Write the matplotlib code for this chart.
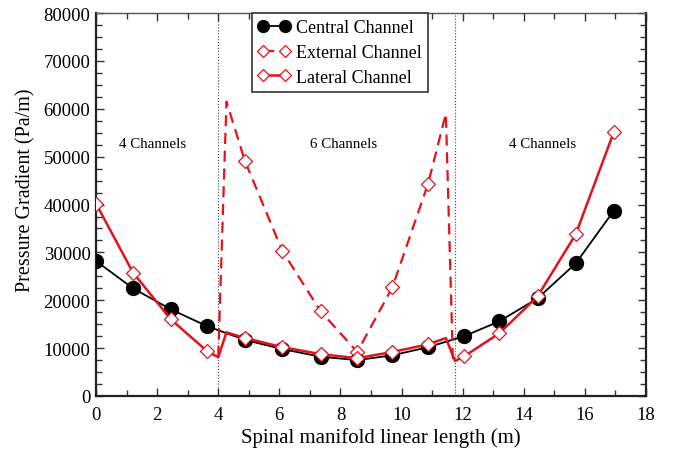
import matplotlib
matplotlib.use("Agg")
import matplotlib.pyplot as plt
from matplotlib.ticker import MultipleLocator

plt.rcParams['font.family'] = ['Liberation Serif', 'DejaVu Serif']

# Central channel
central_x = [0, 1.21, 2.45, 3.63, 4.88, 6.1, 7.35, 8.55, 9.7, 10.87, 12.05, 13.2, 14.45, 15.7, 16.95]
central_y = [28200, 22500, 18100, 14600, 11700, 9800, 8200, 7500, 8500, 10200, 12500, 15600, 20400, 27700, 38750]

# Lateral channel (diamond markers)
lateral_x = [0, 1.21, 2.45, 3.63, 4.88, 6.1, 7.35, 8.55, 9.7, 10.87, 12.05, 13.2, 14.45, 15.7, 16.95]
lateral_y = [40200, 25800, 16000, 9400, 12100, 10200, 8750, 7900, 9200, 10800, 8300, 13100, 20800, 33800, 55200]
# Lateral channel line corners (transitions)
lateral_kink_x = [4.0, 4.27, 11.45, 11.75]
lateral_kink_y = [8100, 13300, 12100, 7300]

# External channel (diamond markers)
external_x = [4.88, 6.1, 7.35, 8.55, 9.7, 10.87]
external_y = [49000, 30300, 17700, 9200, 22700, 44400]
# External channel line ends and peaks
external_kink_x = [4.0, 4.27, 11.45, 11.68]
external_kink_y = [8100, 61500, 59000, 7300]

boundaries = [4.0, 11.75]
zone_labels = ["4 Channels", "6 Channels", "4 Channels"]
zone_label_x = [1.85, 8.1, 14.6]
zone_label_y = 52800

red = '#e3121c'

fig = plt.figure(figsize=(6.79, 4.56), dpi=100)
ax = fig.add_axes([0.1414, 0.1294, 0.81, 0.8396])

lat_pts = sorted(list(zip(lateral_x, lateral_y, [True]*len(lateral_x))) +
                 list(zip(lateral_kink_x, lateral_kink_y, [False]*len(lateral_kink_x))),
                 key=lambda p: p[0])
lx = [p[0] for p in lat_pts]
ly = [p[1] for p in lat_pts]
lmark = [i for i, p in enumerate(lat_pts) if p[2]]

ext_pts = sorted(list(zip(external_x, external_y, [True]*len(external_x))) +
                 list(zip(external_kink_x, external_kink_y, [False]*len(external_kink_x))),
                 key=lambda p: p[0])
ex = [p[0] for p in ext_pts]
ey = [p[1] for p in ext_pts]
emark = [i for i, p in enumerate(ext_pts) if p[2]]

for b in boundaries:
    ax.axvline(b, color='#444444', linestyle=':', linewidth=0.8, zorder=1)

ax.plot(central_x, central_y, color='black', linewidth=1.3, marker='o', markersize=10,
        markerfacecolor='black', markeredgecolor='black', label='Central Channel', zorder=3)
ax.plot(ex, ey, color=red, linewidth=1.6, linestyle=(0, (5, 3)), marker='D', markersize=7,
        markevery=emark, markerfacecolor='white', markeredgecolor=red, markeredgewidth=0.9,
        label='External Channel', zorder=4)
ax.plot(lx, ly, color=red, linewidth=1.8, marker='D', markersize=7, markevery=lmark,
        markerfacecolor='white', markeredgecolor=red, markeredgewidth=0.9,
        label='Lateral Channel', zorder=5)

for t, x in zip(zone_labels, zone_label_x):
    ax.text(x, zone_label_y, t, ha='center', va='center', fontsize=10.8)

ax.set_xlim(0, 18)
ax.set_ylim(0, 80000)
ax.xaxis.set_major_locator(MultipleLocator(2))
ax.xaxis.set_minor_locator(MultipleLocator(1))
ax.yaxis.set_major_locator(MultipleLocator(10000))
ax.yaxis.set_minor_locator(MultipleLocator(2500))
ax.tick_params(which='both', direction='in', top=True, right=True, labelsize=13.5, color='#333333')
ax.tick_params(which='major', length=6, width=1.0, pad=7)
ax.tick_params(which='minor', length=4, width=1.0)
ax.tick_params(axis='y', which='major', pad=4)
for s in ax.spines.values():
    s.set_linewidth(1.6)
    s.set_color('#222222')
ax.spines['top'].set_color('#555555')
ax.spines['top'].set_linewidth(1.0)

ax.set_xlabel('Spinal manifold linear length (m)', fontsize=15, labelpad=3)
ax.set_ylabel('Pressure Gradient (Pa/m)', fontsize=14.5, labelpad=6)
ax.xaxis.label.set_x(0.518)
ax.yaxis.label.set_y(0.539)

leg = ax.legend(loc='upper left', bbox_to_anchor=(0.283, 1.0), fontsize=13, fancybox=False,
                framealpha=1, edgecolor='#333333', handlelength=1.8, numpoints=2,
                borderpad=0.35, labelspacing=0.42, handletextpad=0.3, borderaxespad=0,
                markerscale=0.85)
leg.get_frame().set_linewidth(1.2)

fig.savefig('out.png', dpi=100)
